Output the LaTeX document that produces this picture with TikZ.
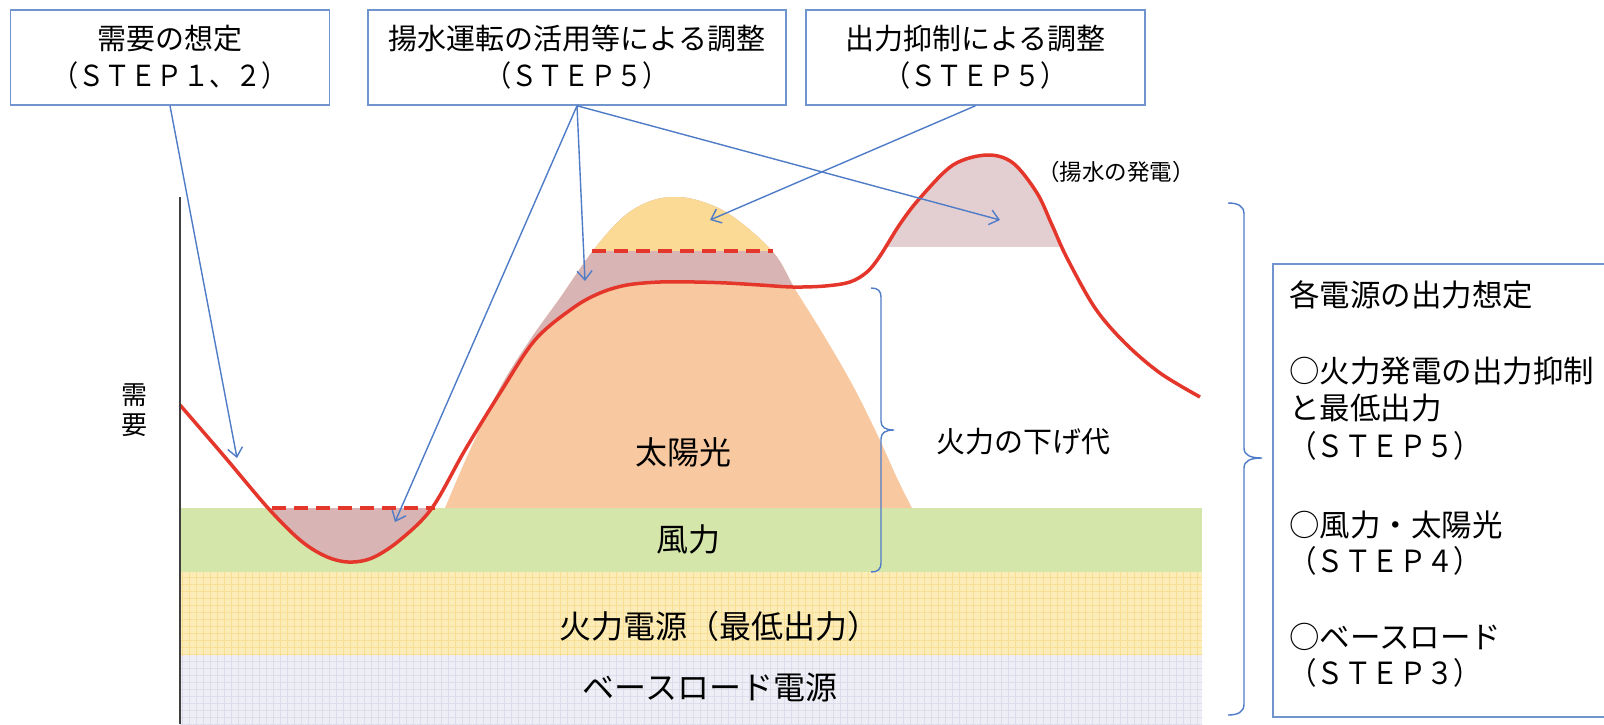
\documentclass[tikz,border=0pt]{standalone}
\usepackage{fontspec}
\usepackage{graphicx}
\setmainfont{Noto Sans CJK JP}
\usetikzlibrary{arrows.meta,patterns.meta}
\definecolor{cblue}{HTML}{4F7CC6}
\definecolor{cbox}{HTML}{7094CE}
\definecolor{cred}{HTML}{E5362B}
\definecolor{cgreen}{HTML}{D4E6AA}
\definecolor{cyel}{HTML}{FCEDB8}
\definecolor{cyelgrid}{HTML}{F8DE94}
\definecolor{clav}{HTML}{EEEEF6}
\definecolor{clavgrid}{HTML}{DCDCEA}
\definecolor{corange}{HTML}{F8C9A0}
\definecolor{csun}{HTML}{FADA94}
\definecolor{cmauve}{HTML}{D8B4B4}
\definecolor{cpump}{HTML}{E3CFD2}
\definecolor{caxis}{HTML}{404040}
\newcommand{\stepl}[1]{\scalebox{0.9}[1]{#1}}
\newcommand{\demandpath}{plot[smooth,tension=0.55] coordinates {(180,405) (224,456) (268,508) (300,540) (325,556) (348,562) (372,558) (400,540) (432,508) (465,450) (500,393) (535,340) (573,308) (600,293) (627,285) (660,282) (695,282) (727,283) (760,285) (793,287) (825,286) (850,282) (867,272) (880,256) (900,224) (920,198) (953,165) (987,155) (1013,163) (1037,193) (1052,225) (1067,258) (1095,308) (1125,343) (1160,373) (1200,397)}}
\newcommand{\sunpath}{plot[smooth,tension=0.6] coordinates {(445,508) (470,450) (500,388) (530,340) (560,298) (592,252) (622,218) (648,202) (673,197) (700,201) (732,216) (773,252) (795,289) (823,334) (852,384) (878,436) (897,478) (912,508)} -- cycle}
\begin{document}
\begin{tikzpicture}[x=1pt,y=-1pt,
  topbox/.style={draw=cbox,line width=1.5pt,minimum height=95pt,inner sep=0pt,align=center,font=\fontsize{29}{37}\selectfont},
  ptr/.style={draw=cblue,line width=1.4pt,-{Straight Barb[length=9pt,width=15pt,line width=1.4pt]}},
  brk/.style={draw=cblue,line width=1.4pt},
  lbl/.style={inner sep=0pt,font=\fontsize{32}{36}\selectfont},
  rtext/.style={inner sep=0pt,anchor=west,font=\fontsize{30.5}{36}\selectfont},
  redline/.style={draw=cred,line width=3.5pt},
  reddash/.style={draw=cred,line width=3.5pt,dash pattern=on 14pt off 8pt},
  hgrid/.style={pattern={Lines[angle=0,distance=7pt,line width=0.9pt]},pattern color=#1},
  vgrid/.style={pattern={Lines[angle=90,distance=7pt,line width=0.9pt]},pattern color=#1}
]
\useasboundingbox (0,0) rectangle (1604,724);
\fill[white] (0,0) rectangle (1604,724);
% bands
\fill[clav] (180,655) rectangle (1202,724);
\fill[vgrid=clavgrid] (180,655) rectangle (1202,724);
\fill[hgrid=clavgrid] (180,655) rectangle (1202,724);
\fill[cyel] (180,572) rectangle (1202,655);
\fill[vgrid=cyelgrid] (180,572) rectangle (1202,655);
\fill[hgrid=cyelgrid] (180,572) rectangle (1202,655);
\fill[cgreen] (180,508) rectangle (1202,572);
% solar
\fill[corange] \sunpath;
\begin{scope}
  \clip \sunpath;
  \fill[cmauve] \demandpath -- (1202,0) -- (180,0) -- cycle;
  \fill[csun] (0,0) rectangle (1604,251);
\end{scope}
% valley (pumping)
\begin{scope}
  \clip (180,508) rectangle (1202,724);
  \fill[cmauve] \demandpath -- (1202,0) -- (180,0) -- cycle;
\end{scope}
% pump generation
\begin{scope}
  \clip (180,0) rectangle (1202,246);
  \fill[cpump] \demandpath -- (1202,724) -- (180,724) -- cycle;
\end{scope}
% dashed lines
\draw[reddash] (592,251) -- (773,251);
\draw[reddash] (272,508) -- (435,508);
% demand curve
\draw[redline] \demandpath;
% axis
\draw[caxis,line width=2pt] (180,197) -- (180,724);
% brackets
\draw[brk] (871,288) .. controls (878,288) and (881,291) .. (881,297) -- (881,421) .. controls (881,427) and (885,430) .. (894,430) .. controls (885,430) and (881,433) .. (881,439) -- (881,563) .. controls (881,569) and (878,572) .. (871,572);
\draw[brk] (1228,203) .. controls (1238,203) and (1244,206) .. (1244,214) -- (1244,448) .. controls (1244,455) and (1250,458) .. (1262,458) .. controls (1250,458) and (1244,461) .. (1244,468) -- (1244,704) .. controls (1244,712) and (1238,715) .. (1228,715);
% labels
\node[inner sep=0pt,align=center,font=\fontsize{26}{30}\selectfont] (axl) at (134,410) {需\\要};
\node[lbl] (sun) at (683,452) {太陽光};
\node[lbl] (wind) at (688,539) {風力};
\node[lbl] (thermal) at (719,626) {火力電源（最低出力）};
\node[lbl] (base) at (710,687) {ベースロード電源};
\node[inner sep=0pt,font=\fontsize{29}{34}\selectfont] (margin) at (1023,442) {火力の下げ代};
\node[inner sep=0pt,font=\fontsize{22.5}{26}\selectfont] (pumpgen) at (1116,172) {（揚水の発電）};
% top boxes
\node[topbox,minimum width=319pt] (b1) at (170,57.5) {需要の想定\\\stepl{（ＳＴＥＰ１、２）}};
\node[topbox,minimum width=418pt] (b2) at (577,57.5) {揚水運転の活用等による調整\\\stepl{（ＳＴＥＰ５）}};
\node[topbox,minimum width=339pt] (b3) at (975.5,57.5) {出力抑制による調整\\\stepl{（ＳＴＥＰ５）}};
% arrow targets
\coordinate (t1) at (237,458);
\coordinate (t2a) at (395,522);
\coordinate (t2b) at (585,281);
\coordinate (t2c) at (1000,220);
\coordinate (t3) at (710,220);
\draw[ptr] (b1.south) -- (t1);
\draw[ptr] (b2.south) -- (t2a);
\draw[ptr] (b2.south) -- (t2b);
\draw[ptr] (b2.south) -- (t2c);
\draw[ptr] (b3.south) -- (t3);
% right box
\node[draw=cbox,line width=1.5pt,anchor=north west,minimum width=345pt,minimum height=453pt,inner sep=0pt] (rbox) at (1272,263) {};
\node[rtext] (r1) at (1289,295) {各電源の出力想定};
\node[rtext] (r2) at (1289,371) {○火力発電の出力抑制};
\node[rtext] (r3) at (1289,408) {と最低出力};
\node[rtext] (r4) at (1289,446) {\stepl{（ＳＴＥＰ５）}};
\node[rtext] (r5) at (1289,525) {○風力・太陽光};
\node[rtext] (r6) at (1289,561) {\stepl{（ＳＴＥＰ４）}};
\node[rtext] (r7) at (1289,637) {○ベースロード};
\node[rtext] (r8) at (1289,673) {\stepl{（ＳＴＥＰ３）}};
\end{tikzpicture}
\end{document}
